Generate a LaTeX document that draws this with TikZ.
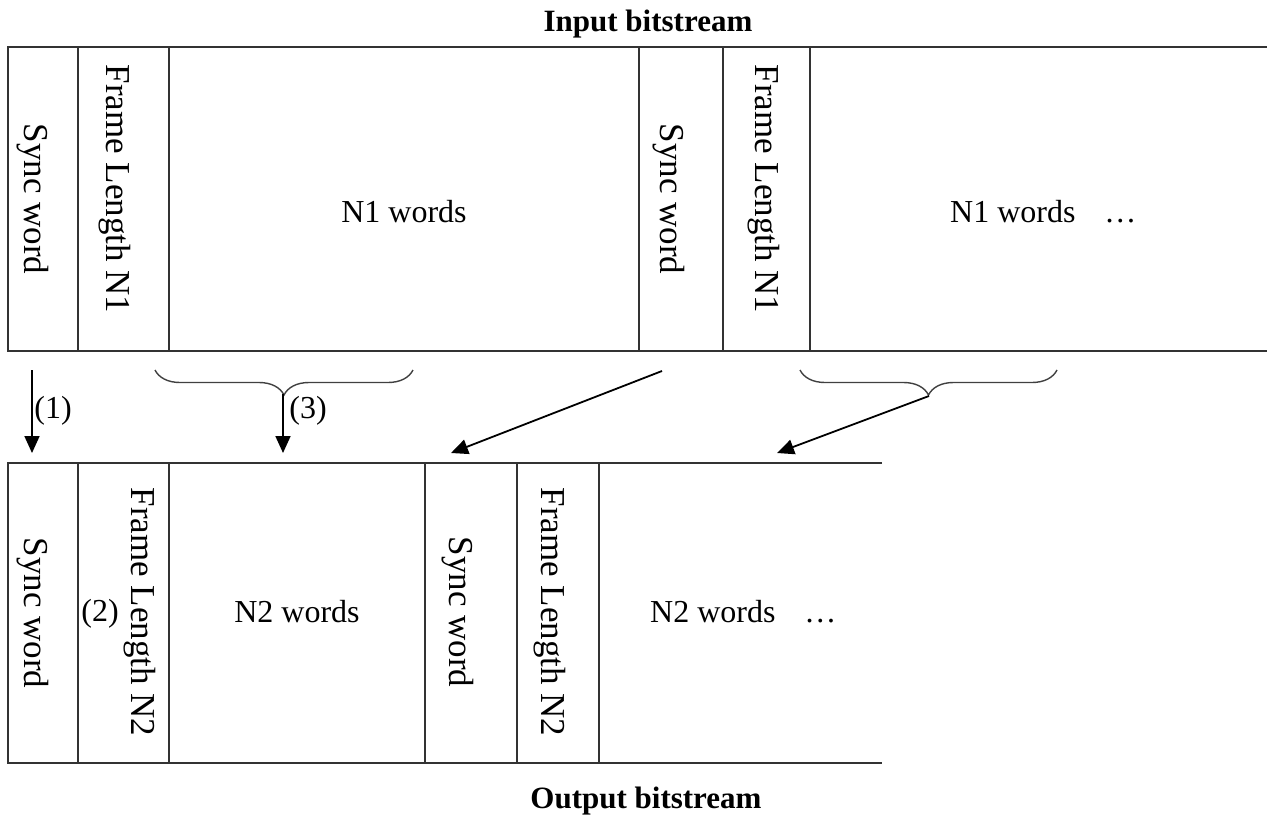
\documentclass[tikz,border=0pt]{standalone}
\usepackage{fontspec}
\setmainfont{Liberation Serif}
\usetikzlibrary{arrows.meta,decorations.pathreplacing}
\begin{document}
\begin{tikzpicture}[x=1pt,y=-1pt,
  frame/.style={line width=1.6pt,draw=black!80},
  lbl/.style={inner sep=0pt,font=\fontsize{32}{38}\selectfont},
  vlbl/.style={inner sep=0pt,rotate=-90,font=\fontsize{35}{40}\selectfont},
  title/.style={inner sep=0pt,font=\fontsize{31}{36}\selectfont\bfseries},
  arr/.style={line width=1.8pt,-{Triangle[length=17pt,width=15pt]}},
  brc/.style={line width=1.4pt,draw=black!75,decorate,decoration={brace,mirror,amplitude=25pt}}]
\useasboundingbox (0,0) rectangle (1267,819);
% input bitstream
\draw[frame] (1267,47) -- (8,47) -- (8,351) -- (1267,351);
\foreach \x in {78,169,639,723,810} \draw[frame] (\x,47) -- (\x,351);
% output bitstream
\draw[frame] (882,463) -- (8,463) -- (8,763) -- (882,763);
\foreach \x in {78,169,425,517,599} \draw[frame] (\x,463) -- (\x,763);
% titles
\node[title] (tin) at (648,24) {Input bitstream};
\node[title] (tout) at (646,801) {Output bitstream};
% top labels
\node[vlbl] (s1) at (33,199) {Sync word};
\node[vlbl] (f1) at (115,189) {Frame Length N1};
\node[lbl] (w1) at (404,212) {N1 words};
\node[vlbl] (s2) at (669,199) {Sync word};
\node[vlbl] (f2) at (764,189) {Frame Length N1};
\node[lbl,anchor=west] (w2) at (950,212) {N1 words\hspace{0.9em}\dots};
% bottom labels
\node[vlbl] (s3) at (33,613) {Sync word};
\node[vlbl] (f3) at (140,612) {Frame Length N2};
\node[lbl] (n2) at (100,614) {(2)};
\node[lbl] (w3) at (297,612) {N2 words};
\node[vlbl] (s4) at (458,612) {Sync word};
\node[vlbl] (f4) at (550,612) {Frame Length N2};
\node[lbl,anchor=west] (w4) at (650,612) {N2 words\hspace{0.9em}\dots};
% braces
\coordinate (b1a) at (155,370); \coordinate (b1b) at (413,370);
\coordinate (b2a) at (800,370); \coordinate (b2b) at (1057,370);
\draw[brc] (b1a) -- (b1b);
\draw[brc] (b2a) -- (b2b);
% arrows
\coordinate (a1s) at (32,370); \coordinate (a1e) at (32,453);
\coordinate (a3s) at (283,394); \coordinate (a3e) at (283,453);
\coordinate (a4s) at (662,371); \coordinate (a4e) at (451,453);
\coordinate (a5s) at (929,396); \coordinate (a5e) at (777,453);
\draw[arr] (a1s) -- (a1e);
\draw[arr] (a3s) -- (a3e);
\draw[arr] (a4s) -- (a4e);
\draw[arr] (a5s) -- (a5e);
\node[lbl] (l1) at (53,411) {(1)};
\node[lbl] (l3) at (308,411) {(3)};
\end{tikzpicture}
\end{document}
